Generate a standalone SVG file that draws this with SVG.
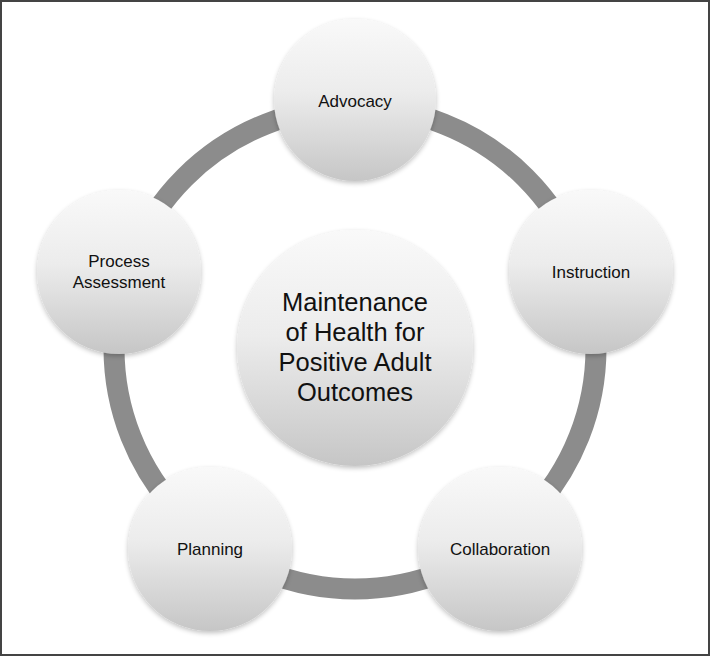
<svg xmlns="http://www.w3.org/2000/svg" width="710" height="657" viewBox="0 0 710 657">
<style>
.node{fill:url(#g);filter:url(#sh)}
.lbl{font-family:"Liberation Sans",Arial,sans-serif;font-size:17px;fill:#111;text-anchor:middle}
.big{font-family:"Liberation Sans",Arial,sans-serif;font-size:25.5px;fill:#111;text-anchor:middle}
</style>
<defs>
<linearGradient id="g" x1="0" y1="0" x2="0" y2="1">
<stop offset="0" stop-color="#f9f9f9"/>
<stop offset="0.45" stop-color="#ececec"/>
<stop offset="1" stop-color="#c6c6c6"/>
</linearGradient>
<filter id="sh" x="-20%" y="-20%" width="140%" height="140%">
<feGaussianBlur in="SourceAlpha" stdDeviation="2.5"/>
<feOffset dy="2" result="b"/>
<feComponentTransfer><feFuncA type="linear" slope="0.25"/></feComponentTransfer>
<feMerge><feMergeNode/><feMergeNode in="SourceGraphic"/></feMerge>
</filter>
</defs>
<rect x="0" y="0" width="710" height="657" fill="#fff"/>
<rect x="1" y="1" width="708" height="654" fill="none" stroke="#444" stroke-width="2"/>
<g id="connectors">
<circle cx="355" cy="348" r="241" fill="none" stroke="#8c8c8c" stroke-width="21"/>
</g>
<g id="center">
<circle class="node" cx="355" cy="348" r="118"/>
<text class="big" x="355" y="311">Maintenance</text>
<text class="big" x="355" y="341">of Health for</text>
<text class="big" x="355" y="371">Positive Adult</text>
<text class="big" x="355" y="401">Outcomes</text>
</g>
<g id="advocacy">
<circle class="node" cx="355" cy="100" r="81"/>
<text class="lbl" x="355" y="107">Advocacy</text>
</g>
<g id="instruction">
<circle class="node" cx="591" cy="272" r="82"/>
<text class="lbl" x="591" y="278">Instruction</text>
</g>
<g id="collaboration">
<circle class="node" cx="500" cy="549" r="82"/>
<text class="lbl" x="500" y="555">Collaboration</text>
</g>
<g id="planning">
<circle class="node" cx="210" cy="549" r="82"/>
<text class="lbl" x="210" y="555">Planning</text>
</g>
<g id="process-assessment">
<circle class="node" cx="119" cy="272" r="82"/>
<text class="lbl" x="119" y="267">Process</text>
<text class="lbl" x="119" y="288">Assessment</text>
</g>
</svg>
